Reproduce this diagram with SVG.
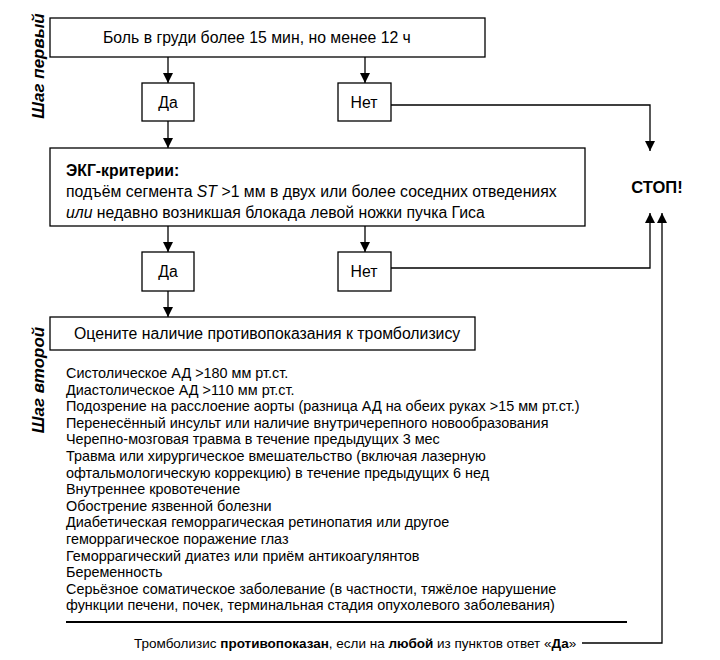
<svg xmlns="http://www.w3.org/2000/svg" width="720" height="660" viewBox="0 0 720 660">
<style>
text{font-family:"Liberation Sans",Arial,sans-serif;fill:#000}
.box{fill:#fff;stroke:#000;stroke-width:1.3}
.t{font-size:15.8px}
.l{font-size:14.4px}
.f{font-size:13.5px}
.b{font-weight:bold}
.i{font-style:italic}
.c{fill:none;stroke:#000;stroke-width:1.3}
.side{font-size:17px;font-weight:bold;font-style:italic}
</style>
<defs>
<marker id="ah" viewBox="0 0 10 12" refX="10" refY="6" markerWidth="10" markerHeight="12" markerUnits="userSpaceOnUse" orient="auto">
<path d="M0,1 L10,6 L0,11 Z" fill="#000"/>
</marker>
</defs>
<rect width="720" height="660" fill="#fff"/>
<g id="side-labels">
<text class="side" transform="translate(44,66) rotate(-90)" text-anchor="middle">Шаг первый</text>
<text class="side" transform="translate(44,380) rotate(-90)" text-anchor="middle">Шаг второй</text>
</g>
<g id="connectors">
<path class="c" d="M168,57 V83" marker-end="url(#ah)"/>
<path class="c" d="M365,57 V83" marker-end="url(#ah)"/>
<path class="c" d="M391,105 H650 V151" marker-end="url(#ah)"/>
<path class="c" d="M168,121 V148" marker-end="url(#ah)"/>
<path class="c" d="M168,226 V252" marker-end="url(#ah)"/>
<path class="c" d="M365,226 V252" marker-end="url(#ah)"/>
<path class="c" d="M391,268 H650 V213" marker-end="url(#ah)"/>
<path class="c" d="M168,291 V317" marker-end="url(#ah)"/>
<path class="c" d="M582,643 H662 V213" marker-end="url(#ah)"/>
</g>
<g id="n-pain">
<rect class="box" x="50" y="18" width="435" height="39"/>
<text class="t" x="103" y="43">Боль в груди более 15 мин, но менее 12 ч</text>
</g>
<g id="n-yes1">
<rect class="box" x="142" y="83" width="52" height="38"/>
<text class="t" x="168" y="108" text-anchor="middle">Да</text>
</g>
<g id="n-no1">
<rect class="box" x="338" y="83" width="53" height="38"/>
<text class="t" x="364" y="108" text-anchor="middle">Нет</text>
</g>
<g id="n-stop">
<text class="b" x="657" y="193" text-anchor="middle" font-size="16.5">СТОП!</text>
</g>
<g id="n-ecg">
<rect class="box" x="50" y="148" width="535" height="78"/>
<text class="t b" x="66" y="176">ЭКГ-критерии:</text>
<text class="t" x="66" y="197">подъём сегмента <tspan class="i">ST</tspan> &gt;1 мм в двух или более соседних отведениях</text>
<text class="t" x="66" y="218"><tspan class="i">или</tspan> недавно возникшая блокада левой ножки пучка Гиса</text>
</g>
<g id="n-yes2">
<rect class="box" x="142" y="252" width="52" height="39"/>
<text class="t" x="168" y="277" text-anchor="middle">Да</text>
</g>
<g id="n-no2">
<rect class="box" x="338" y="252" width="53" height="39"/>
<text class="t" x="364" y="277" text-anchor="middle">Нет</text>
</g>
<g id="n-assess">
<rect class="box" x="50" y="317" width="425" height="33"/>
<text class="t" x="74" y="339">Оцените наличие противопоказания к тромболизису</text>
</g>
<g id="n-list">
<text class="l" x="66" y="378">Систолическое АД &gt;180 мм рт.ст.</text>
<text class="l" x="66" y="394.6">Диастолическое АД &gt;110 мм рт.ст.</text>
<text class="l" x="66" y="411.2">Подозрение на расслоение аорты (разница АД на обеих руках &gt;15 мм рт.ст.)</text>
<text class="l" x="66" y="427.8">Перенесённый инсульт или наличие внутричерепного новообразования</text>
<text class="l" x="66" y="444.4">Черепно-мозговая травма в течение предыдущих 3 мес</text>
<text class="l" x="66" y="461">Травма или хирургическое вмешательство (включая лазерную</text>
<text class="l" x="66" y="477.6">офтальмологическую коррекцию) в течение предыдущих 6 нед</text>
<text class="l" x="66" y="494.2">Внутреннее кровотечение</text>
<text class="l" x="66" y="510.8">Обострение язвенной болезни</text>
<text class="l" x="66" y="527.4">Диабетическая геморрагическая ретинопатия или другое</text>
<text class="l" x="66" y="544">геморрагическое поражение глаз</text>
<text class="l" x="66" y="560.6">Геморрагический диатез или приём антикоагулянтов</text>
<text class="l" x="66" y="577.2">Беременность</text>
<text class="l" x="66" y="593.8">Серьёзное соматическое заболевание (в частности, тяжёлое нарушение</text>
<text class="l" x="66" y="610.4">функции печени, почек, терминальная стадия опухолевого заболевания)</text>
<path d="M66,622 H627" stroke="#000" stroke-width="2"/>
</g>
<g id="n-conclusion">
<text class="f" x="134" y="648">Тромболизис <tspan class="b">противопоказан</tspan>, если на <tspan class="b">любой</tspan> из пунктов ответ «<tspan class="b">Да</tspan>»</text>
</g>
</svg>
